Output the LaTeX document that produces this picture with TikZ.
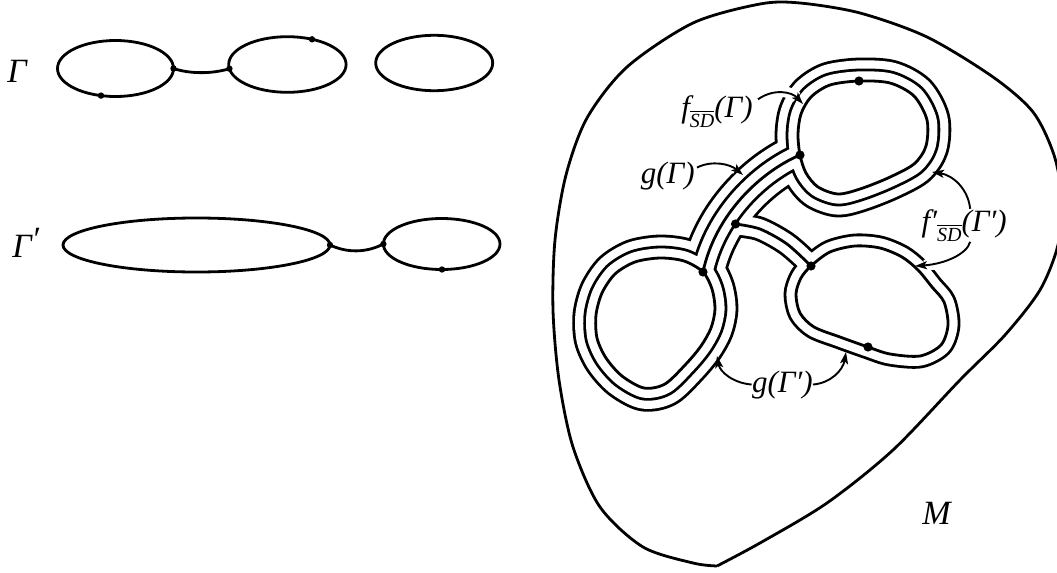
\documentclass[tikz,border=0pt]{standalone}
\usepackage{fontspec}
\setmainfont{Liberation Serif}
\usetikzlibrary{arrows.meta}
\newcommand\lblfont{\fontsize{15.5}{18}\selectfont\itshape}
\newcommand\biglblfont{\fontsize{17}{20}\selectfont\itshape}
\newcommand\sdsub{\raisebox{-0.33em}{\fontsize{10}{10}\selectfont$\overline{\hbox{\itshape SD}}$}}
\def\Ucore{plot[smooth cycle] coordinates {(800,155) (798,134) (801,114) (811,97) (830,85) (859,81) (890,83) (914,96) (927,120) (926,146) (914,164) (888,178) (860,189) (838,194) (818,187) (806,173)}}
\def\Wcore{plot[smooth cycle] coordinates {(703,272) (684,261) (660,258) (635,262) (615,274) (602,293) (596,315) (597,338) (606,358) (622,376) (644,388) (665,384) (686,364) (701,346) (711,328) (715,309) (712,289)}}
\def\Score{(800,155) .. controls (760,172) and (715,215) .. (703,272)}
\def\Ecore{plot[smooth] coordinates {(735.5,224) (760,229) (787,244) (811,266)}}
\def\Eext{plot[smooth] coordinates {(724,216) (735.5,224) (760,229) (787,244) (811,266) (818,280)}}
\def\Lcore{plot[smooth cycle] coordinates {(811,266) (830,252) (855,246) (880,248) (902,257) (918,270) (932,287) (944,302) (948,325) (941,345) (920,356) (890,354) (868,347) (840,337) (814,327) (800,313) (796,294) (801,278)}}
\begin{document}
\begin{tikzpicture}[x=0.5pt,y=-0.5pt,
  ln/.style={line width=1.4pt},
  core/.style={line width=1.4pt,line join=round},
  bdot/.style={circle,fill=black,inner sep=0pt,minimum size=4.6pt},
  sdot/.style={circle,fill=black,inner sep=0pt,minimum size=3.2pt},
  lbl/.style={inner sep=0pt,font=\lblfont},
  biglbl/.style={inner sep=0pt,font=\biglblfont},
  arr/.style={line width=0.95pt,-{Stealth[length=6pt,width=4pt,inset=1.4pt]}},
  halo/.style={draw=white,line width=5.5pt,shorten <=5pt,shorten >=4.5pt},
  tubeA/.style={line width=23.4pt,line join=round,line cap=round},
  tubeAw/.style={line width=20.6pt,line join=round,line cap=round},
  tubeB/.style={line width=12.4pt,line join=round,line cap=round},
  tubeBw/.style={line width=9.6pt,line join=round,line cap=round},
]
\useasboundingbox (0,0) rectangle (1057,573);

% ---------- left: Gamma ----------
\node[biglbl,anchor=base west] (GL) at (7,83) {Γ};
\draw[ln] (115.5,68.5) ellipse [x radius=58, y radius=28];
\draw[ln] (287.4,64.5) ellipse [x radius=58.7, y radius=27.8];
\draw[ln] (434.2,63) ellipse [x radius=58.5, y radius=27.7];
\node[sdot] (a1) at (173.5,68.5) {};
\node[sdot] (a0) at (101,95.6) {};
\node[sdot] (b1) at (229.4,68.7) {};
\node[sdot] (b0) at (312,39.3) {};
\draw[ln] (a1.center) .. controls (190,74) and (212,74) .. (b1.center);

% ---------- left: Gamma' ----------
\node[biglbl,anchor=base west] (GPL) at (12,257) {Γ\raisebox{0.2em}{′}};
\draw[ln] (196.5,245) ellipse [x radius=133.5, y radius=27];
\draw[ln] (441.7,244) ellipse [x radius=58.3, y radius=25.5];
\node[sdot] (c1) at (330,245) {};
\node[sdot] (d1) at (383.4,244) {};
\node[sdot] (d0) at (442,269.5) {};
\draw[ln] (c1.center) .. controls (347,253) and (366,253) .. (d1.center);

% ---------- right: manifold M ----------
\draw[ln] plot[smooth] coordinates {(717,566) (693,563) (643,547) (600,507) (573,447) (559,380) (553,310) (555,240) (566,175) (587,118) (627,67) (693,23) (760,4) (800,3) (860,13) (927,37) (993,77) (1033,112) (1054,155) (1062,200) (1058,245) (1040,290) (1005,335) (960,380) (893,450) (827,503) (760,543) (717,566)};
\node[biglbl,anchor=base west] (Ml) at (922,524) {M};

% outer boundary (black)
\path[fill=black,draw=black,tubeA] \Ucore;
\path[fill=black,draw=black,tubeA] \Wcore;
\path[draw=black,tubeA] \Score;
\path[draw=black,tubeB] \Eext;
\path[fill=black,draw=black,tubeB] \Lcore;
% outer boundary (white)
\path[fill=white,draw=white,tubeAw] \Ucore;
\path[fill=white,draw=white,tubeAw] \Wcore;
\path[draw=white,tubeAw] \Score;
\path[draw=white,tubeBw] \Eext;
\path[fill=white,draw=white,tubeBw] \Lcore;
% middle boundary
\path[fill=black,draw=black,tubeB] \Ucore;
\path[fill=black,draw=black,tubeB] \Wcore;
\path[draw=black,tubeB] \Score;
\path[fill=white,draw=white,tubeBw] \Ucore;
\path[fill=white,draw=white,tubeBw] \Wcore;
\path[draw=white,tubeBw] \Score;
% cores
\draw[core] \Ucore;
\draw[core] \Wcore;
\draw[core] \Score;
\draw[core] \Ecore;
\draw[core] \Lcore;

\node[bdot] (J1) at (800,155) {};
\node[bdot] (J2) at (703,272) {};
\node[bdot] (J3) at (735.5,224) {};
\node[bdot] (J4) at (811,266) {};
\node[bdot] (Ut) at (859,81) {};
\node[bdot] (Lb) at (868,347) {};

% labels
\node[lbl,anchor=base east] (fsd) at (753,117) {f\sdsub(Γ)};
\node[lbl,anchor=base east] (gG) at (695,183) {g(Γ)};
\node[lbl,anchor=base east] (fpsd) at (1007,231) {f′\sdsub(Γ′)};
\node[lbl,anchor=base east] (gGp) at (813,392) {g(Γ′)};

\coordinate (fsdT) at (803,104);
\coordinate (gGT) at (743,175);
\coordinate (fpU) at (932,172);
\coordinate (fpL) at (915,266);
\coordinate (gpL) at (717,356);
\coordinate (gpR) at (846,352);

\path[halo] ([shift={(2.5pt,6pt)}]fsd.east) .. controls (774,88) and (792,92) .. (fsdT);
\draw[arr] ([shift={(2.5pt,6pt)}]fsd.east) .. controls (774,88) and (792,92) .. (fsdT);
\path[halo] ([shift={(1pt,4pt)}]gG.east) .. controls (712,160) and (730,164) .. (gGT);
\draw[arr] ([shift={(1pt,4pt)}]gG.east) .. controls (712,160) and (730,164) .. (gGT);
\path[halo] ([xshift=3pt]fpsd.north) .. controls (968,188) and (952,175) .. (fpU);
\draw[arr] ([xshift=3pt]fpsd.north) .. controls (968,188) and (952,175) .. (fpU);
\path[halo] ([xshift=3pt]fpsd.south) .. controls (967,254) and (945,264) .. (fpL);
\draw[arr] ([xshift=3pt]fpsd.south) .. controls (967,254) and (945,264) .. (fpL);
\draw[arr] (gGp.west) .. controls (733,383) and (720,372) .. (gpL);
\draw[arr] (gGp.east) .. controls (831,383) and (843,370) .. (gpR);
\end{tikzpicture}
\end{document}
